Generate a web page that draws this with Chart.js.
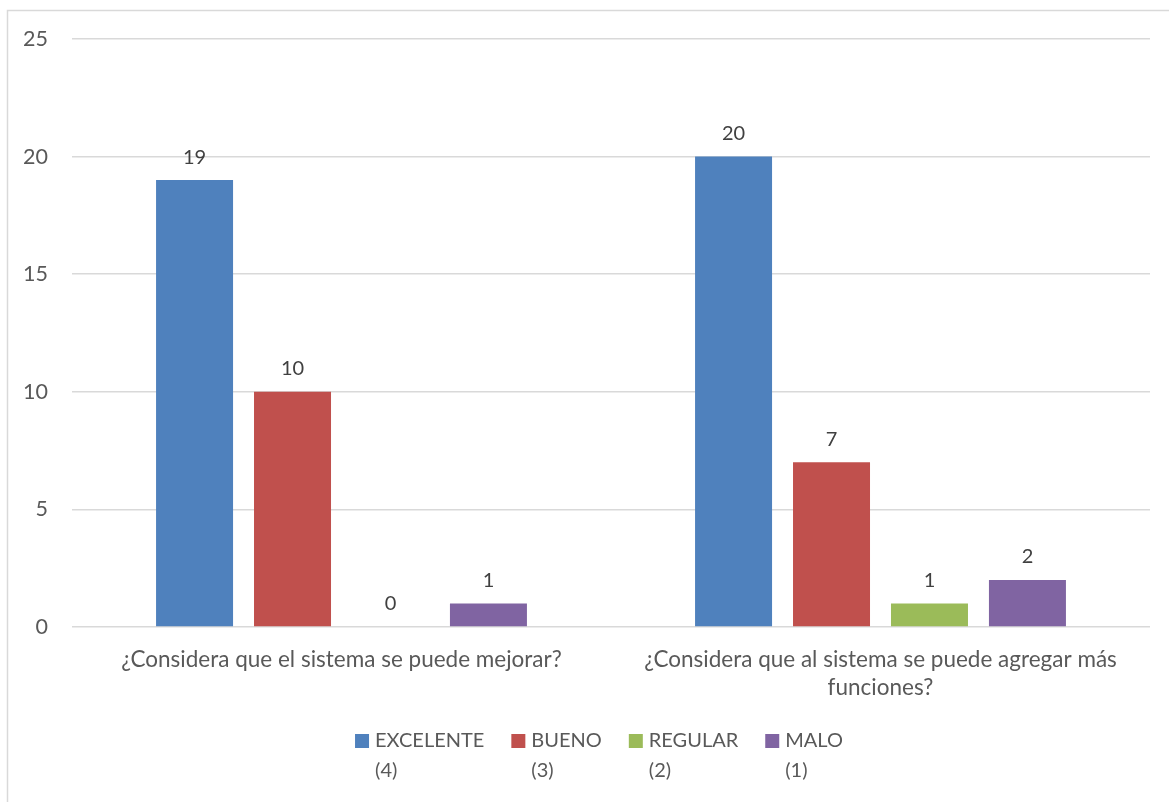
<!DOCTYPE html>
<html lang="es">
<head>
<meta charset="UTF-8">
<title>Encuesta sistema</title>
<script src="https://cdn.jsdelivr.net/npm/chart.js"></script>
<style>
  html, body { margin: 0; padding: 0; background: #fff; }
  #wrap { width: 1169px; height: 802px; }
</style>
</head>
<body>
<div id="wrap"><canvas id="chart" width="1169" height="802"></canvas></div>
<script>
// categories (x axis), one entry per question, split into lines
const categories = [
  ['¿Considera que el sistema se puede mejorar?'],
  ['¿Considera que al sistema se puede agregar más', 'funciones?']
];
const seriesNames = [['EXCELENTE', '(4)'], ['BUENO', '(3)'], ['REGULAR', '(2)'], ['MALO', '(1)']];
const excelente = [19, 20];
const bueno = [10, 7];
const regular = [0, 1];
const malo = [1, 2];
const yTicks = [0, 5, 10, 15, 20, 25];

const colors = ['#4f81bd', '#c0504d', '#9bbb59', '#8064a2'];
const FONT = 'Lato, "Open Sans", sans-serif';

// light frame around the whole chart
const framePlugin = {
  id: 'frame',
  beforeDraw(chart) {
    const c = chart.ctx;
    c.save();
    c.strokeStyle = '#d9d9d9';
    c.lineWidth = 1.5;
    c.strokeRect(7.5, 10.5, chart.width + 20, chart.height + 20);
    c.restore();
  }
};

// numbers above each bar
const valueLabels = {
  id: 'valueLabels',
  afterDatasetsDraw(chart) {
    const c = chart.ctx;
    c.save();
    c.font = '20px ' + FONT;
    c.fillStyle = '#404040';
    c.textAlign = 'center';
    c.textBaseline = 'middle';
    chart.data.datasets.forEach((ds, i) => {
      chart.getDatasetMeta(i).data.forEach((bar, j) => {
        c.fillText(String(ds.data[j]), bar.x, bar.y - 23);
      });
    });
    c.restore();
  }
};

// legend at the bottom with two-line entries
const bottomLegend = {
  id: 'bottomLegend',
  afterDraw(chart) {
    const c = chart.ctx;
    c.save();
    c.font = '20px ' + FONT;
    const box = 14, gapBox = 6, gapItem = 27;
    const widths = chart.data.datasets.map(ds =>
      box + gapBox + Math.max(...ds.label.map(t => c.measureText(t).width)));
    const total = widths.reduce((a, b) => a + b, 0) + gapItem * (widths.length - 1);
    let x = 599 - total / 2;
    const y1 = 741, y2 = 771;
    c.textBaseline = 'middle';
    c.textAlign = 'left';
    chart.data.datasets.forEach((ds, i) => {
      c.fillStyle = ds.backgroundColor;
      c.fillRect(x, y1 - box / 2, box, box);
      c.fillStyle = '#595959';
      c.fillText(ds.label[0], x + box + gapBox, y1);
      c.fillText(ds.label[1], x + box + gapBox, y2);
      x += widths[i] + gapItem;
    });
    c.restore();
  }
};

const datasets = [excelente, bueno, regular, malo].map((vals, i) => ({
  label: seriesNames[i],
  data: vals,
  backgroundColor: colors[i],
  borderWidth: 0,
  categoryPercentage: 0.727,
  barPercentage: 0.786
}));

new Chart(document.getElementById('chart'), {
  type: 'bar',
  data: { labels: categories, datasets: datasets },
  plugins: [framePlugin, valueLabels, bottomLegend],
  options: {
    responsive: false,
    animation: false,
    layout: { padding: { left: 8, right: 19, top: 39, bottom: 0 } },
    plugins: {
      legend: { display: false },
      tooltip: { enabled: false }
    },
    scales: {
      x: {
        grid: { display: false, drawTicks: false },
        border: { display: false },
        ticks: {
          color: '#595959',
          font: { family: FONT, size: 22.5, lineHeight: 1.25 },
          padding: 19,
          maxRotation: 0,
          autoSkip: false
        },
        afterFit(scale) { scale.height = 175; }
      },
      y: {
        min: 0,
        max: 25,
        afterBuildTicks(scale) { scale.ticks = yTicks.map(v => ({ value: v })); },
        grid: { color: '#d9d9d9', lineWidth: 1.5, drawTicks: false },
        border: { display: false },
        ticks: {
          color: '#595959',
          font: { family: FONT, size: 21.5 },
          padding: 24
        },
        afterFit(scale) { scale.width = 64; }
      }
    }
  }
});
</script>
</body>
</html>
